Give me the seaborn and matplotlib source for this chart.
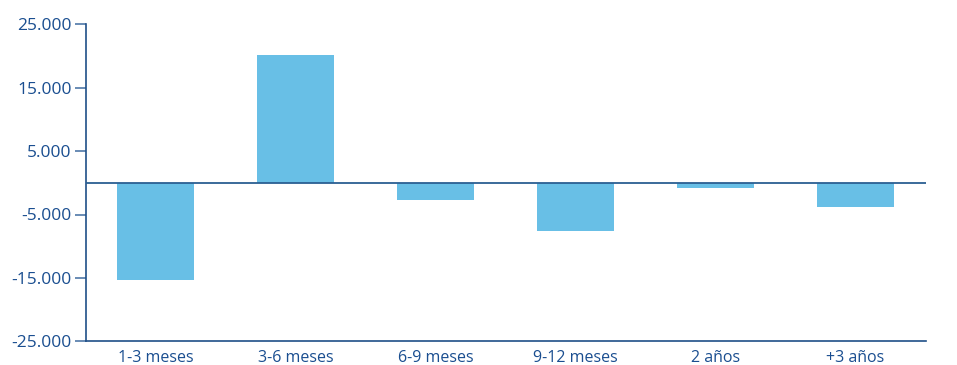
import matplotlib
matplotlib.use("Agg")
import matplotlib.pyplot as plt
from matplotlib.ticker import FuncFormatter
import seaborn as sns
import pandas as pd

categories = ["1-3 meses", "3-6 meses", "6-9 meses", "9-12 meses", "2 años", "+3 años"]
values = [-15400, 20200, -2700, -7600, -800, -3800]
y_ticks = [-25000, -15000, -5000, 5000, 15000, 25000]

bar_color = "#68BFE6"
text_color = "#1A4E90"
axis_color = "#1F4F88"

sns.set_theme(style="white")
plt.rcParams["font.family"] = ["Open Sans", "DejaVu Sans"]

df = pd.DataFrame({"plazo": categories, "valor": values})

fig = plt.figure(figsize=(9.57, 3.65), dpi=100)
ax = fig.add_axes([85.5 / 957, (365 - 341.3) / 365, 840 / 957, 317 / 365])

sns.barplot(data=df, x="plazo", y="valor", color=bar_color, saturation=1,
            width=0.55, ax=ax, edgecolor="none")

ax.axhline(0, color="#2B5F92", lw=1.3, zorder=3)

ax.set_xlim(-0.5, len(categories) - 0.5)
ax.set_ylim(-25000, 25000)
ax.set_yticks(y_ticks)
ax.yaxis.set_major_formatter(FuncFormatter(lambda v, _: f"{int(v):,}".replace(",", ".")))

ax.set_xlabel("")
ax.set_ylabel("")

for side in ["top", "right"]:
    ax.spines[side].set_visible(False)
for side in ["left", "bottom"]:
    ax.spines[side].set_color(axis_color)
    ax.spines[side].set_linewidth(1.2)

ax.tick_params(axis="y", which="both", left=True, length=8, width=1.2,
               color="#4F78A8", labelcolor=text_color, labelsize=12.5, pad=2)
ax.tick_params(axis="x", which="both", bottom=False, labelcolor=text_color,
               labelsize=11.5, pad=0.5)
for lbl in ax.get_yticklabels() + ax.get_xticklabels():
    lbl.set_fontweight("medium")

fig.savefig("out.png", dpi=100)
